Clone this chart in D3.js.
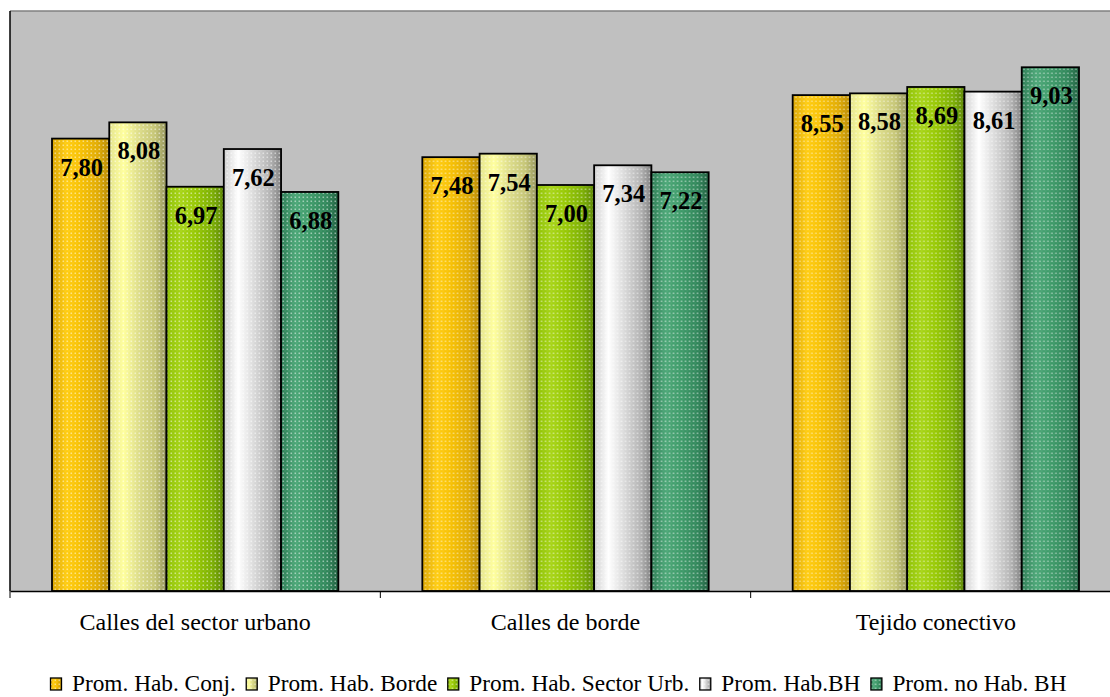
<!DOCTYPE html>
<html><head><meta charset="utf-8">
<script src="https://cdn.jsdelivr.net/npm/d3@7"></script>
<style>body{margin:0;background:#fff}svg{display:block}
text{font-family:"Liberation Serif","Times New Roman",Times,serif}</style>
</head><body>
<script>
const categories = ["Calles del sector urbano", "Calles de borde", "Tejido conectivo"];
const seriesNames = ["Prom. Hab. Conj.", "Prom. Hab. Borde", "Prom. Hab. Sector Urb.", "Prom. Hab.BH", "Prom. no Hab. BH"];
const conj   = [7.80, 7.48, 8.55];
const borde  = [8.08, 7.54, 8.58];
const sector = [6.97, 7.00, 8.69];
const bh     = [7.62, 7.34, 8.61];
const noBh   = [6.88, 7.22, 9.03];
const seriesValues = [conj, borde, sector, bh, noBh];
const gradOffsets = [0, 0.25, 0.5, 0.8, 1];
const gradStops = [
  ["#d9a400", "#ffcc10", "#f7c000", "#e0aa00", "#b88a00"],
  ["#e4e48c", "#ffff9c", "#dede8a", "#c4c474", "#93935a"],
  ["#8cc000", "#a6d414", "#96c800", "#7aae00", "#5a8400"],
  ["#cfcfcf", "#ffffff", "#dddddd", "#b4b4b4", "#808080"],
  ["#2a7a52", "#4aa676", "#3c9a68", "#2f8659", "#1e5e3e"]
];

const W = 1110, H = 697;
const svg = d3.select("body").append("svg").attr("width", W).attr("height", H);
const defs = svg.append("defs");

seriesNames.forEach((s, i) => {
  const g = defs.append("linearGradient").attr("id", "g" + i).attr("x1", 0).attr("x2", 1).attr("y1", 0).attr("y2", 0);
  gradOffsets.forEach((o, k) => g.append("stop").attr("offset", o).attr("stop-color", gradStops[i][k]));
});
const pat = defs.append("pattern").attr("id", "dots").attr("width", 4).attr("height", 4).attr("patternUnits", "userSpaceOnUse");
pat.append("rect").attr("x", 0.5).attr("y", 0.5).attr("width", 1.6).attr("height", 1.6).attr("fill", "#ffffff").attr("opacity", 0.5);
pat.append("rect").attr("x", 2.5).attr("y", 2.5).attr("width", 1).attr("height", 1).attr("fill", "#ffffff").attr("opacity", 0.2);

const plotL = 10, plotT = 11, plotB = 591, plotR = 1121;
const x0 = d3.scaleBand().domain(categories).range([plotL, plotR]).paddingInner(0).paddingOuter(0);
const x1 = d3.scaleBand().domain(seriesNames).range([42, x0.bandwidth() - 42]).paddingOuter(0).paddingInner(0);
const y = d3.scaleLinear().domain([0, 10]).range([plotB, plotT]);

svg.append("rect").attr("x", plotL).attr("y", plotT).attr("width", plotR - plotL).attr("height", plotB - plotT).attr("fill", "#c0c0c0");
svg.append("line").attr("x1", plotL).attr("x2", plotR).attr("y1", plotT).attr("y2", plotT).attr("stroke", "#808080").attr("stroke-width", 1.5);
svg.append("line").attr("x1", plotL).attr("x2", plotL).attr("y1", plotT).attr("y2", plotB).attr("stroke", "#000").attr("stroke-width", 1.5);

categories.forEach((c, ci) => {
  const g = svg.append("g").attr("transform", `translate(${x0(c)},0)`);
  seriesNames.forEach((s, si) => {
    const v = seriesValues[si][ci];
    const bx = x1(s), bw = x1.bandwidth();
    g.append("rect").attr("x", bx).attr("y", y(v)).attr("width", bw).attr("height", y(0) - y(v)).attr("fill", `url(#g${si})`);
    g.append("rect").attr("x", bx).attr("y", y(v)).attr("width", bw).attr("height", y(0) - y(v)).attr("fill", "url(#dots)")
      .attr("stroke", "#000").attr("stroke-width", 1.8);
    g.append("text").attr("x", bx + bw / 2 + 1).attr("y", y(v) + 37).attr("text-anchor", "middle")
      .attr("font-weight", "bold").attr("font-size", 24.5)
      .attr("fill", "#000").text(v.toFixed(2).replace(".", ","));
  });
});

const xAxis = d3.axisBottom(x0).tickSize(0).tickFormat(d => d);
const ax = svg.append("g").attr("transform", `translate(0,${plotB})`).call(xAxis);
ax.attr("font-family", null);
ax.select(".domain").attr("stroke", "#000").attr("stroke-width", 1.5);
ax.selectAll(".tick text").attr("font-size", 24).attr("fill", "#000").attr("dy", 0).attr("y", 39);
const bounds = categories.map(c => x0(c)).concat([plotR]);
svg.selectAll("line.bt").data(bounds).join("line").attr("class", "bt")
  .attr("x1", d => d).attr("x2", d => d).attr("y1", plotB).attr("y2", plotB + 7).attr("stroke", "#000").attr("stroke-width", 1);

const leg = svg.append("g").attr("font-size", 23.3);
let lx = 50;
const ly = 691;
seriesNames.forEach((s, i) => {
  const it = leg.append("g").attr("transform", `translate(${lx},${ly})`);
  it.append("rect").attr("x", 0.5).attr("y", -13).attr("width", 11).attr("height", 12).attr("fill", `url(#g${i})`);
  it.append("rect").attr("x", 0.5).attr("y", -13).attr("width", 11).attr("height", 12).attr("fill", "url(#dots)").attr("stroke", "#000").attr("stroke-width", 1.3);
  const t = it.append("text").attr("x", 22).attr("y", 0).text(s);
  lx += 22 + t.node().getComputedTextLength() + 10;
});
</script>
</body></html>
